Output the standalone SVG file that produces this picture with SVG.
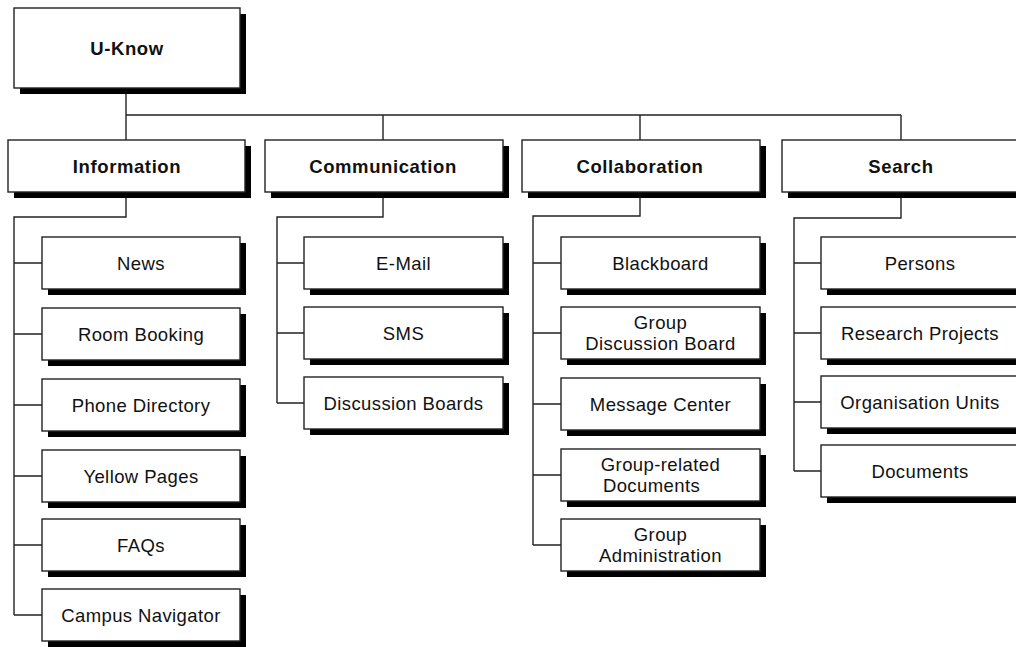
<svg xmlns="http://www.w3.org/2000/svg" width="1016" height="647" viewBox="0 0 1016 647">
<style>
.bx{fill:#fff;stroke:#222;stroke-width:1.4}
.sh{fill:#000}
.cn{fill:none;stroke:#222;stroke-width:1.4}
.b{font-family:"Liberation Sans",Arial,sans-serif;font-weight:bold;font-size:18.5px;letter-spacing:0.6px;fill:#111;text-anchor:middle}
.r{font-family:"Liberation Sans",Arial,sans-serif;font-size:18.5px;letter-spacing:0.4px;fill:#111;text-anchor:middle}
</style>
<rect width="1016" height="647" fill="#fff"/>
<g id="connectors">
<path class="cn" d="M126,88V140M126,115H901M383,115V140M640,115V140M901,115V140"/>
<path class="cn" d="M126,192V217H14V615M14,263H42M14,334H42M14,405H42M14,476H42M14,545H42M14,615H42"/>
<path class="cn" d="M383,193V217H277V403M277,263H304M277,333H304M277,403H304"/>
<path class="cn" d="M640,192V216H533V545M533,263H561M533,333H561M533,404H561M533,475H561M533,545H561"/>
<path class="cn" d="M901,192V218H794V471M794,263H821M794,333H821M794,402H821M794,471H821"/>
</g>
<g id="u-know"><rect class="sh" x="20" y="14" width="226" height="80"/><rect class="bx" x="14" y="8" width="226" height="80"/><text class="b" x="127" y="54.5">U-Know</text></g>
<g id="information"><rect class="sh" x="14" y="146" width="237" height="52"/><rect class="bx" x="8" y="140" width="237" height="52"/><text class="b" x="127" y="173">Information</text></g>
<g id="communication"><rect class="sh" x="271" y="146" width="238" height="52"/><rect class="bx" x="265" y="140" width="238" height="52"/><text class="b" x="383" y="173">Communication</text></g>
<g id="collaboration"><rect class="sh" x="528" y="146" width="238" height="52"/><rect class="bx" x="522" y="140" width="238" height="52"/><text class="b" x="640" y="173">Collaboration</text></g>
<g id="search"><rect class="sh" x="788" y="146" width="238" height="52"/><rect class="bx" x="782" y="140" width="238" height="52"/><text class="b" x="901" y="173">Search</text></g>

<g id="news"><rect class="sh" x="48" y="243" width="198" height="52"/><rect class="bx" x="42" y="237" width="198" height="52"/><text class="r" x="141" y="269.5">News</text></g>
<g id="room-booking"><rect class="sh" x="48" y="314" width="198" height="52"/><rect class="bx" x="42" y="308" width="198" height="52"/><text class="r" x="141" y="340.5">Room Booking</text></g>
<g id="phone-directory"><rect class="sh" x="48" y="385" width="198" height="52"/><rect class="bx" x="42" y="379" width="198" height="52"/><text class="r" x="141" y="411.5">Phone Directory</text></g>
<g id="yellow-pages"><rect class="sh" x="48" y="456" width="198" height="52"/><rect class="bx" x="42" y="450" width="198" height="52"/><text class="r" x="141" y="482.5">Yellow Pages</text></g>
<g id="faqs"><rect class="sh" x="48" y="525" width="198" height="52"/><rect class="bx" x="42" y="519" width="198" height="52"/><text class="r" x="141" y="551.5">FAQs</text></g>
<g id="campus-navigator"><rect class="sh" x="48" y="595" width="198" height="52"/><rect class="bx" x="42" y="589" width="198" height="52"/><text class="r" x="141" y="621.5">Campus Navigator</text></g>

<g id="e-mail"><rect class="sh" x="310" y="243" width="199" height="52"/><rect class="bx" x="304" y="237" width="199" height="52"/><text class="r" x="403.5" y="269.5">E-Mail</text></g>
<g id="sms"><rect class="sh" x="310" y="313" width="199" height="52"/><rect class="bx" x="304" y="307" width="199" height="52"/><text class="r" x="403.5" y="339.5">SMS</text></g>
<g id="discussion-boards"><rect class="sh" x="310" y="383" width="199" height="52"/><rect class="bx" x="304" y="377" width="199" height="52"/><text class="r" x="403.5" y="409.5">Discussion Boards</text></g>

<g id="blackboard"><rect class="sh" x="567" y="243" width="199" height="52"/><rect class="bx" x="561" y="237" width="199" height="52"/><text class="r" x="660.5" y="269.5">Blackboard</text></g>
<g id="group-discussion-board"><rect class="sh" x="567" y="313" width="199" height="52"/><rect class="bx" x="561" y="307" width="199" height="52"/><text class="r" x="660.5" y="328.5">Group</text><text class="r" x="660.5" y="350">Discussion Board</text></g>
<g id="message-center"><rect class="sh" x="567" y="384" width="199" height="52"/><rect class="bx" x="561" y="378" width="199" height="52"/><text class="r" x="660.5" y="410.5">Message Center</text></g>
<g id="group-related-documents"><rect class="sh" x="567" y="455" width="199" height="52"/><rect class="bx" x="561" y="449" width="199" height="52"/><text class="r" x="660.5" y="470.5">Group-related</text><text class="r" x="651.5" y="492">Documents</text></g>
<g id="group-administration"><rect class="sh" x="567" y="525" width="199" height="52"/><rect class="bx" x="561" y="519" width="199" height="52"/><text class="r" x="660.5" y="540.5">Group</text><text class="r" x="660.5" y="562">Administration</text></g>

<g id="persons"><rect class="sh" x="827" y="243" width="198" height="52"/><rect class="bx" x="821" y="237" width="198" height="52"/><text class="r" x="920" y="269.5">Persons</text></g>
<g id="research-projects"><rect class="sh" x="827" y="313" width="198" height="52"/><rect class="bx" x="821" y="307" width="198" height="52"/><text class="r" x="920" y="339.5">Research Projects</text></g>
<g id="organisation-units"><rect class="sh" x="827" y="382" width="198" height="52"/><rect class="bx" x="821" y="376" width="198" height="52"/><text class="r" x="920" y="408.5">Organisation Units</text></g>
<g id="documents"><rect class="sh" x="827" y="451" width="198" height="52"/><rect class="bx" x="821" y="445" width="198" height="52"/><text class="r" x="920" y="477.5">Documents</text></g>
</svg>
